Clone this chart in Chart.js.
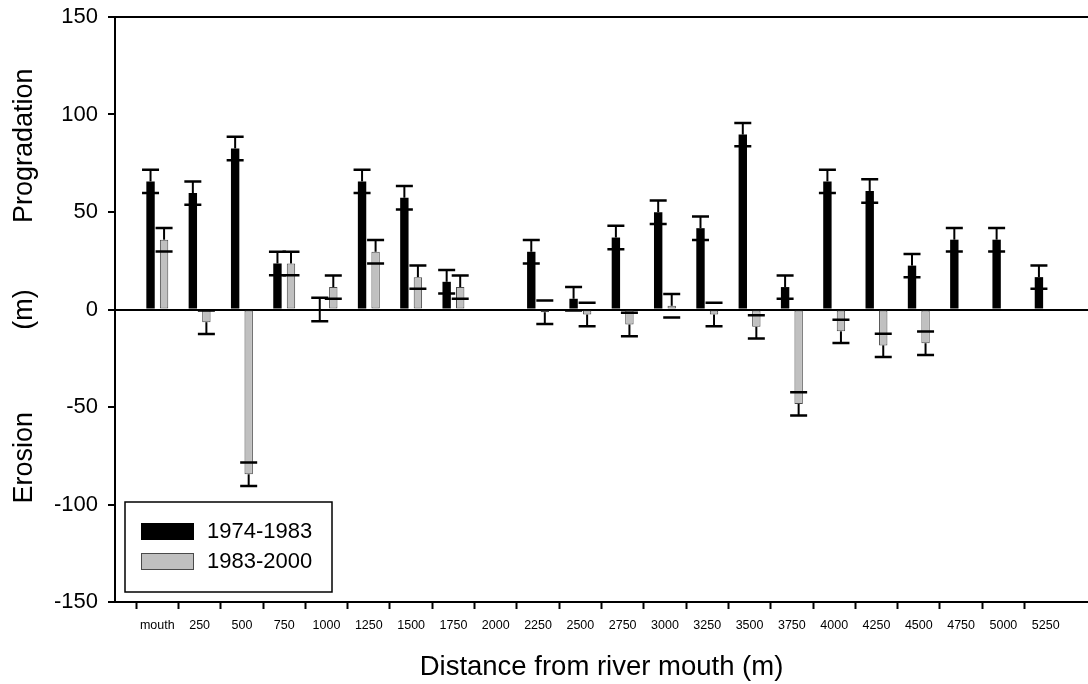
<!DOCTYPE html>
<html>
<head>
<meta charset="utf-8">
<script src="https://cdn.jsdelivr.net/npm/chart.js@4.4.0/dist/chart.umd.min.js"></script>
<style>
html, body { margin: 0; padding: 0; background: #fff; }
</style>
</head>
<body>
<canvas id="shoreline-change" width="1088" height="684"></canvas>
<script>
"use strict";

// distance classes along the coast
var distances = ['mouth', '250', '500', '750', '1000', '1250', '1500', '1750', '2000', '2250', '2500',
                 '2750', '3000', '3250', '3500', '3750', '4000', '4250', '4500', '4750', '5000', '5250'];

var seriesNames = ['1974-1983', '1983-2000'];

var change1974 = [65.7, 59.7, 82.6, 23.6, 0, 65.7, 57.3, 14.2, null, 29.6, 5.5,
                  36.9, 49.9, 41.7, 89.7, 11.5, 65.7, 60.8, 22.5, 35.8, 35.8, 16.6];
var change1983 = [35.8, -6.5, -84.5, 23.6, 11.5, 29.6, 16.6, 11.5, null, -1.4, -2.6,
                  -7.7, 1.9, -2.6, -8.9, -48.4, -11.2, -18.4, -17.3, null, null, null];

var error1974 = [6, 6, 6, 6, 6, 6, 6, 6, null, 6, 6, 6, 6, 6, 6, 6, 6, 6, 6, 6, 6, 6];
var error1983 = [6, 6, 6, 6, 6, 6, 6, 6, null, 6, 6, 6, 6, 6, 6, 6, 6, 6, 6, null, null, null];

var yTitleParts = ['Progradation', '(m)', 'Erosion'];
var xTitle = 'Distance from river mouth (m)';

var FONT = '"Liberation Sans", Arial, sans-serif';

// empty slot at each end so the first and last class sit one step in from the frame
function padded(arr) {
    return [null].concat(arr, [null]);
}
var labels = [''].concat(distances, ['']);
var lastIdx = labels.length - 1;

var errorBars = {
    id: 'errorBars',
    afterDatasetsDraw: function (chart) {
        var ctx = chart.ctx;
        var yScale = chart.scales.y;
        ctx.save();
        ctx.strokeStyle = '#000';
        chart.data.datasets.forEach(function (ds, i) {
            var meta = chart.getDatasetMeta(i);
            meta.data.forEach(function (bar, j) {
                var v = ds.data[j];
                var e = ds.errors[j];
                if (v === null || e === null || e === undefined) return;
                var hi = yScale.getPixelForValue(v + e);
                var lo = yScale.getPixelForValue(v - e);
                var mid = yScale.getPixelForValue(v);
                ctx.lineWidth = 2;
                ctx.beginPath();
                if (v === 0) {
                    ctx.moveTo(bar.x, hi);
                    ctx.lineTo(bar.x, lo);
                } else if (v > 0) {
                    ctx.moveTo(bar.x, mid);
                    ctx.lineTo(bar.x, hi);
                } else {
                    ctx.moveTo(bar.x, mid);
                    ctx.lineTo(bar.x, lo);
                }
                ctx.stroke();
                ctx.lineWidth = 2.5;
                ctx.beginPath();
                ctx.moveTo(bar.x - 8.5, hi);
                ctx.lineTo(bar.x + 8.5, hi);
                ctx.moveTo(bar.x - 8.5, lo);
                ctx.lineTo(bar.x + 8.5, lo);
                ctx.stroke();
            });
        });
        ctx.restore();
    }
};

var sideTitles = {
    id: 'sideTitles',
    afterDraw: function (chart) {
        var ctx = chart.ctx;
        var yScale = chart.scales.y;
        var where = [84, 0, -76];
        ctx.save();
        ctx.fillStyle = '#000';
        ctx.font = '27px ' + FONT;
        ctx.textAlign = 'center';
        ctx.textBaseline = 'middle';
        yTitleParts.forEach(function (txt, k) {
            ctx.save();
            ctx.translate(25, yScale.getPixelForValue(where[k]));
            ctx.rotate(-Math.PI / 2);
            ctx.fillText(txt, 0, 0);
            ctx.restore();
        });
        ctx.restore();
    }
};

var legendBox = {
    id: 'legendBox',
    afterDraw: function (chart) {
        var ctx = chart.ctx;
        var area = chart.chartArea;
        var x = area.left + 10, y = area.bottom - 100, w = 207, h = 90;
        ctx.save();
        ctx.fillStyle = '#fff';
        ctx.fillRect(x, y, w, h);
        ctx.lineWidth = 1.5;
        ctx.strokeStyle = '#000';
        ctx.strokeRect(x, y, w, h);
        ctx.font = '22px ' + FONT;
        ctx.textBaseline = 'middle';
        chart.data.datasets.forEach(function (ds, i) {
            var sy = y + 21 + i * 30;
            ctx.fillStyle = ds.backgroundColor;
            ctx.fillRect(x + 16, sy, 53, 17);
            ctx.lineWidth = 1;
            ctx.strokeStyle = ds.borderColor;
            ctx.strokeRect(x + 16.5, sy + 0.5, 52, 16);
            ctx.fillStyle = '#000';
            ctx.fillText(ds.label, x + 82, sy + 9);
        });
        ctx.restore();
    }
};

var ctx = document.getElementById('shoreline-change');

var myBarChart = new Chart(ctx, {
    type: 'bar',
    data: {
        labels: labels,
        datasets: [
            {
                label: seriesNames[0],
                data: padded(change1974),
                errors: padded(error1974),
                backgroundColor: '#000000',
                borderColor: '#000000',
                borderWidth: 0,
                categoryPercentage: 0.64,
                barPercentage: 0.62
            },
            {
                label: seriesNames[1],
                data: padded(change1983),
                errors: padded(error1983),
                backgroundColor: '#c0c0c0',
                borderColor: '#4a4a4a',
                borderWidth: 1,
                borderSkipped: false,
                categoryPercentage: 0.64,
                barPercentage: 0.62
            }
        ]
    },
    options: {
        responsive: false,
        animation: false,
        devicePixelRatio: 1,
        layout: { padding: { top: 17, right: 0, bottom: 0, left: 0 } },
        plugins: {
            legend: { display: false },
            tooltip: { enabled: false }
        },
        scales: {
            x: {
                offset: false,
                afterFit: function (scale) {
                    scale.paddingRight = 0;
                    scale.paddingLeft = 0;
                },
                grid: {
                    drawOnChartArea: false,
                    drawTicks: true,
                    tickLength: 7,
                    tickWidth: 2,
                    tickColor: function (c) {
                        return (c.index === 0 || c.index === lastIdx) ? 'rgba(0,0,0,0)' : '#000';
                    }
                },
                border: { display: true, color: '#000', width: 2 },
                ticks: {
                    autoSkip: false,
                    maxRotation: 0,
                    padding: 9,
                    color: '#000',
                    font: { family: FONT, size: 12.5 }
                },
                title: {
                    display: true,
                    text: xTitle,
                    color: '#000',
                    font: { family: FONT, size: 27.5 },
                    padding: { top: 9, bottom: 0 }
                }
            },
            y: {
                min: -150,
                max: 150,
                afterFit: function (scale) {
                    scale.width = 115;
                    scale.paddingTop = 0;
                    scale.paddingBottom = 0;
                },
                grid: {
                    drawTicks: true,
                    tickLength: 7,
                    tickColor: '#000',
                    tickWidth: 2,
                    color: function (c) {
                        if (!c.tick) return 'rgba(0,0,0,0)';
                        return (c.tick.value === 0 || c.tick.value === 150) ? '#000' : 'rgba(0,0,0,0)';
                    },
                    lineWidth: 2
                },
                border: { display: true, color: '#000', width: 2 },
                ticks: {
                    stepSize: 50,
                    padding: 10,
                    color: '#000',
                    font: { family: FONT, size: 22 }
                }
            }
        }
    },
    plugins: [errorBars, sideTitles, legendBox]
});
</script>
</body>
</html>
